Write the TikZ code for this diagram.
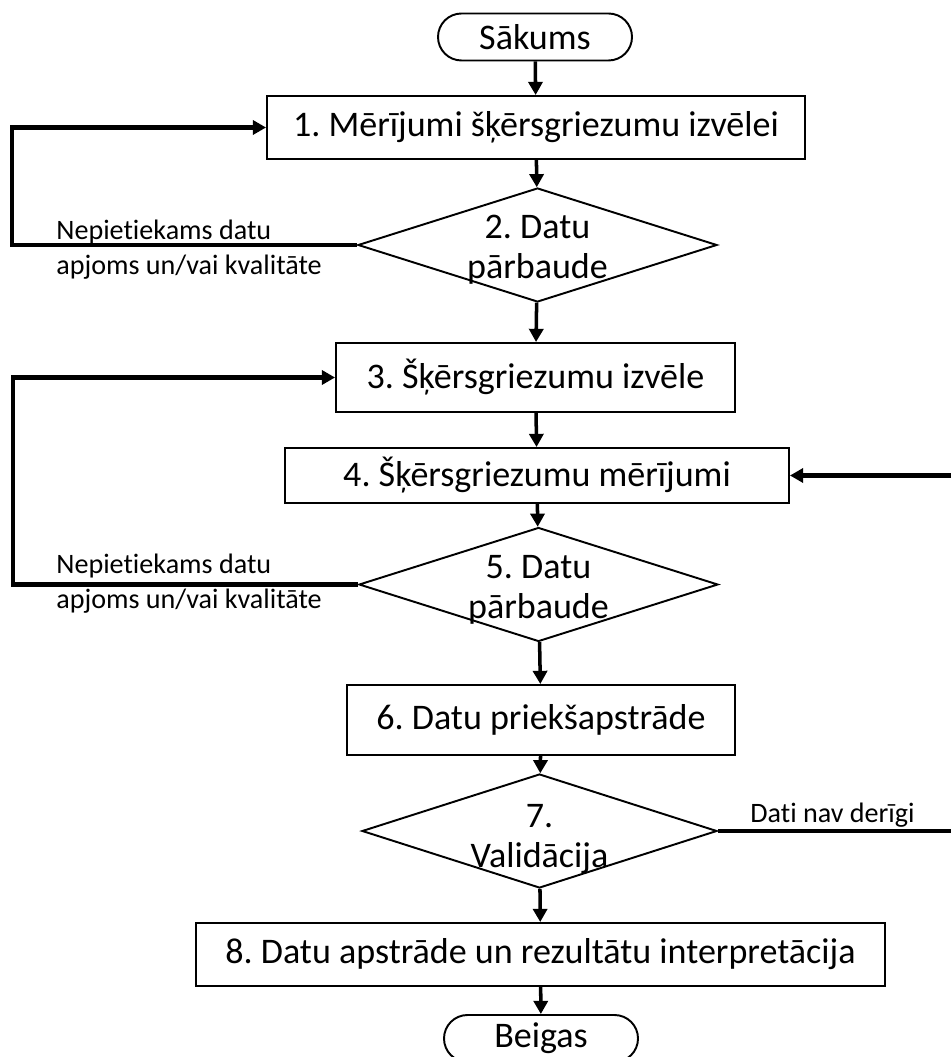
\documentclass[tikz,border=0pt]{standalone}
\usepackage{fontspec}
\setmainfont{Carlito}[Ligatures=CommonOff]
\usetikzlibrary{shapes.geometric,arrows.meta}

\begin{document}
\frenchspacing
\begin{tikzpicture}[
    box/.style={shape=rectangle,draw=black,line width=1.1pt,inner sep=0pt,font=\fontsize{20.5}{24}\selectfont},
    term/.style={box,rounded corners=0.47cm,minimum width=3.88cm,minimum height=0.94cm},
    decision/.style={shape=diamond,draw=black,line width=1.1pt,inner sep=0pt,minimum width=7.18cm,minimum height=2.28cm},
    dtext/.style={align=center,inner sep=0pt,yshift=-0.1cm,font=\fontsize{20.5}{22.8}\selectfont},
    note/.style={align=left,inner sep=0pt,anchor=west,font=\fontsize{16}{19.9}\selectfont},
    flow/.style={-{Triangle[length=7.5pt,width=8pt]},line width=2pt},
    back/.style={flow,line width=2.7pt}
]
    \useasboundingbox (0,0) rectangle (19,-21.14);

    \node[term] (s) at (10.70,-0.74) {Sākums};
    \node[box,minimum width=10.76cm,minimum height=1.26cm] (b1) at (10.72,-2.55) {1. Mērījumi šķērsgriezumu izvēlei};
    \node[decision,label={[dtext]center:{2. Datu\\pārbaude}}] (d2) at (10.75,-4.90) {};
    \node[box,minimum width=7.98cm,minimum height=1.38cm] (b3) at (10.71,-7.55) {3. Šķērsgriezumu izvēle};
    \node[box,minimum width=10.08cm,minimum height=1.10cm] (b4) at (10.74,-9.51) {4. Šķērsgriezumu mērījumi};
    \node[decision,label={[dtext]center:{5. Datu\\pārbaude}}] (d5) at (10.77,-11.69) {};
    \node[box,minimum width=7.76cm,minimum height=1.40cm] (b6) at (10.82,-14.40) {6. Datu priekšapstrāde};
    \node[decision,minimum width=7.10cm,label={[dtext,yshift=-0.06cm]center:{7.\\Validācija}}] (d7) at (10.79,-16.62) {};
    \node[box,minimum width=13.78cm,minimum height=1.26cm] (b8) at (10.81,-19.09) {8. Datu apstrāde un rezultātu interpretācija};
    \node[term] (e) at (10.82,-20.77) {Beigas};

    \coordinate (l2) at (0.24,-4.90);
    \coordinate (l5) at (0.26,-11.69);
    \coordinate (r7) at (19.3,-16.62);

    \node[note] (n2) at (1.12,-4.99) {Nepietiekams datu\\apjoms un/vai kvalitāte};
    \node[note] (n5) at (1.12,-11.67) {Nepietiekams datu\\apjoms un/vai kvalitāte};
    \node[note] (n7) at (15.0,-16.30) {Dati nav derīgi};

    \path [flow] (s) edge (b1);
    \path [flow] (b1) edge (d2);
    \path [flow] (d2) edge (b3);
    \path [flow] (b3) edge (b4);
    \path [flow] (b4) edge (d5);
    \path [flow] (d5) edge (b6);
    \path [flow] (b6) edge (d7);
    \path [flow] (d7) edge (b8);
    \path [flow] (b8) edge (e);

    \draw [back] (d2.west) -- (l2) |- (b1.west);
    \draw [back] (d5.west) -- (l5) |- (b3.west);
    \draw [back] (d7.east) -- (r7) |- (b4.east);

\end{tikzpicture}
\end{document}
